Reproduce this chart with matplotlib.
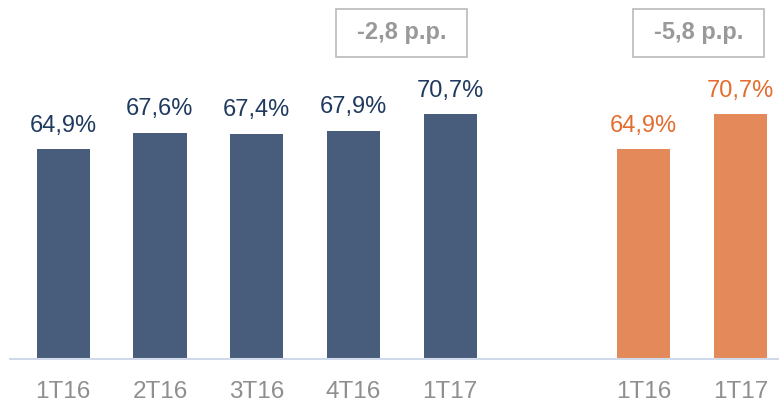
import matplotlib.pyplot as plt
from matplotlib.patches import Rectangle

categories = ['1T16', '2T16', '3T16', '4T16', '1T17', '1T16', '1T17']
positions = [0, 1, 2, 3, 4, 6, 7]
values = [64.9, 67.6, 67.4, 67.9, 70.7, 64.9, 70.7]
labels = ['64,9%', '67,6%', '67,4%', '67,9%', '70,7%', '64,9%', '70,7%']
deltas = ['-2,8 p.p.', '-5,8 p.p.']
delta_pos = [3.5, 6.57]

navy_bar = '#485D7B'
navy_txt = '#1F3A5F'
orange_bar = '#E3895A'
orange_txt = '#E36C2E'
base = 30.1

plt.rcParams['font.family'] = ['Liberation Sans', 'DejaVu Sans']

fig = plt.figure(figsize=(7.79, 4.03), dpi=100)
ax = fig.add_axes([10 / 779, 44 / 403, 769 / 779, 359 / 403])

bar_colors = [navy_bar] * 5 + [orange_bar] * 2
txt_colors = [navy_txt] * 5 + [orange_txt] * 2
ax.bar(positions, [v - base for v in values], bottom=base, width=0.55, color=bar_colors)

for x, v, lab, c in zip(positions, values, labels, txt_colors):
    ax.annotate(lab, (x, v), xytext=(0, 9), textcoords='offset points',
                ha='center', va='bottom', fontsize=17, color=c)

# caixas com a variacao
for x, d in zip(delta_pos, deltas):
    ax.add_patch(Rectangle((x - 0.677, 80.2), 1.355, 7.96, fc='white',
                           ec='#BFBFBF', lw=1.3, clip_on=False))
    ax.text(x, 84.2, d, ha='center', va='center', fontsize=17, fontweight='bold',
            fontstretch='normal', color='#999999')

ax.set_xlim(-0.55, 7.4)
ax.set_ylim(base, 89.6)
ax.set_xticks(positions)
ax.set_xticklabels(categories, fontsize=17.5, color='#8F8F8F',
                   family=['Liberation Sans'], fontstretch='condensed')
ax.tick_params(axis='x', length=0, pad=16)
ax.set_yticks([])
for s in ['top', 'right', 'left']:
    ax.spines[s].set_visible(False)
ax.spines['bottom'].set_color('#D0DAEA')
ax.spines['bottom'].set_linewidth(1.5)

fig.savefig('out.png', dpi=100)
